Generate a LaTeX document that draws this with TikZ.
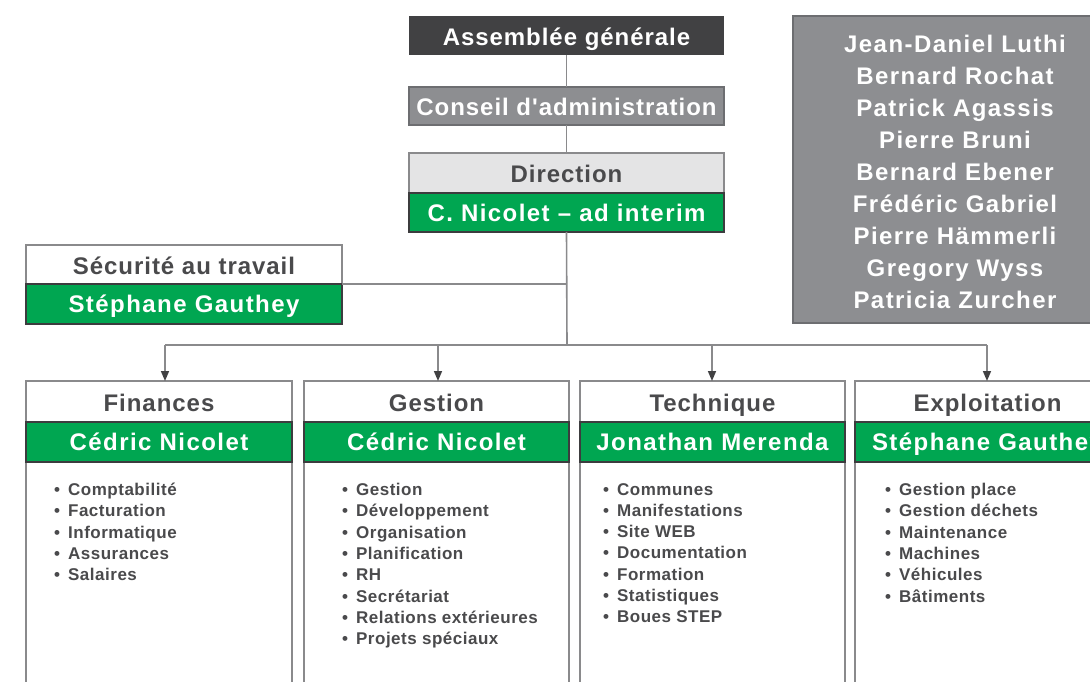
\documentclass[tikz,border=0pt]{standalone}
\usepackage{fontspec}
\setmainfont{Liberation Sans}
\newfontfamily\trA[LetterSpace=4]{Liberation Sans}
\newfontfamily\trB[LetterSpace=6]{Liberation Sans}
\newfontfamily\trC[LetterSpace=3]{Liberation Sans}
\usetikzlibrary{arrows.meta}
\definecolor{cgreen}{HTML}{00A651}
\definecolor{cdark}{HTML}{414143}
\definecolor{cgrey}{HTML}{8D8E91}
\definecolor{clight}{HTML}{E4E4E5}
\definecolor{cline}{HTML}{8A8A8C}
\definecolor{ctext}{HTML}{4A4A4C}
\definecolor{cgborder}{HTML}{6D6E71}
\definecolor{cdarkline}{HTML}{3C3C3E}
\newcommand\itm{•\hspace{8pt}}
\begin{document}
\begin{tikzpicture}[x=1pt,y=-1pt,
  box/.style={anchor=north west, inner sep=0pt, outer sep=0pt, line width=1.5pt,
    text height=17.2pt, text depth=0pt},
  darkbox/.style={box, fill=cdark, text=white, text height=20.8pt, font=\trA\bfseries\fontsize{24}{28}\selectfont},
  greybox/.style={box, fill=cgrey, draw=cgborder, text=white, text height=18.6pt, font=\trA\bfseries\fontsize{24}{28}\selectfont},
  lightbox/.style={box, fill=clight, draw=cline, text=ctext, text height=19.2pt, font=\trA\bfseries\fontsize{24}{28}\selectfont},
  whitebox/.style={box, fill=white, draw=cline, text=ctext, text height=20.4pt, font=\trA\bfseries\fontsize{24}{28}\selectfont},
  greenbox/.style={box, fill=cgreen, draw=cdarkline, text=white, font=\trB\bfseries\fontsize{24}{28}\selectfont},
  bodybox/.style={anchor=north west, inner sep=0pt, outer sep=0pt, line width=1.5pt, fill=white, draw=cline},
  itemlist/.style={anchor=north west, inner sep=0pt, align=left, text=ctext,
    font=\trC\bfseries\fontsize{17}{21.3}\selectfont},
  namelist/.style={anchor=north, inner sep=0pt, align=center, text=white,
    font=\trB\bfseries\fontsize{24}{32}\selectfont},
  conn/.style={draw=cline, line width=1.6pt},
  arr/.style={conn, -{Triangle[length=10pt,width=8pt,color=cdark]}}
]
\useasboundingbox (0,0) rectangle (1090,682);
\clip (0,0) rectangle (1090,682);

% top chain
\node[darkbox, minimum width=315pt, minimum height=39pt] (ag) at (409,16) {Assemblée générale};
\node[greybox, minimum width=315pt, minimum height=38pt] (ca) at (409,87) {Conseil d'administration};
\node[lightbox, minimum width=315pt, minimum height=40pt] (dirh) at (409,153) {Direction};
\node[greenbox, minimum width=315pt, minimum height=39pt] (dirg) at (409,193) {C. Nicolet – ad interim};

% board members
\node[box, fill=cgrey, draw=cgborder, minimum width=330pt, minimum height=307pt] (board) at (793,16) {};
\node[namelist] (names) at (955,34.5) {Jean-Daniel Luthi\\Bernard Rochat\\Patrick Agassis\\Pierre Bruni\\Bernard Ebener\\Frédéric Gabriel\\Pierre Hämmerli\\Gregory Wyss\\Patricia Zurcher};

% safety
\node[whitebox, minimum width=316pt, minimum height=39pt] (sech) at (26,245) {Sécurité au travail};
\node[greenbox, minimum width=316pt, minimum height=40pt] (secg) at (26,284) {Stéphane Gauthey};

% connectors
\coordinate (hub) at (567,345);
\coordinate (b1) at (165,345);
\coordinate (b2) at (438,345);
\coordinate (b3) at (712,345);
\coordinate (b4) at (987,345);
\draw[conn] (ag.south) -- (ca.north);
\draw[conn] (ca.south) -- (dirh.north);
\draw[conn] (dirg.south) -- (hub);
\draw[conn] (sech.south east) -- (sech.south east -| hub);
\draw[conn] (b1) -- (b4);

% departments
\foreach \n/\x/\w/\t/\p in {fin/26/266/Finances/Cédric Nicolet,
                           ges/304/265/Gestion/Cédric Nicolet,
                           tec/580/265/Technique/Jonathan Merenda,
                           exp/855/265/Exploitation/Stéphane Gauthey}{
  \node[bodybox, minimum width=\w pt, minimum height=260pt] (\n b) at (\x,462) {};
  \node[whitebox, minimum width=\w pt, minimum height=41pt] (\n h) at (\x,381) {\t};
  \node[greenbox, minimum width=\w pt, minimum height=40pt] (\n g) at (\x,422) {\p};
}

\draw[arr] (b1) -- (b1 |- finh.north);
\draw[arr] (b2) -- (b2 |- gesh.north);
\draw[arr] (b3) -- (b3 |- tech.north);
\draw[arr] (b4) -- (b4 |- exph.north);

\node[itemlist] (finl) at (54,483) {\itm Comptabilité\\\itm Facturation\\\itm Informatique\\\itm Assurances\\\itm Salaires};
\node[itemlist] (gesl) at (342,483) {\itm Gestion\\\itm Développement\\\itm Organisation\\\itm Planification\\\itm RH\\\itm Secrétariat\\\itm Relations extérieures\\\itm Projets spéciaux};
\node[itemlist] (tecl) at (603,483) {\itm Communes\\\itm Manifestations\\\itm Site WEB\\\itm Documentation\\\itm Formation\\\itm Statistiques\\\itm Boues STEP};
\node[itemlist] (expl) at (885,483) {\itm Gestion place\\\itm Gestion déchets\\\itm Maintenance\\\itm Machines\\\itm Véhicules\\\itm Bâtiments};
\end{tikzpicture}
\end{document}
